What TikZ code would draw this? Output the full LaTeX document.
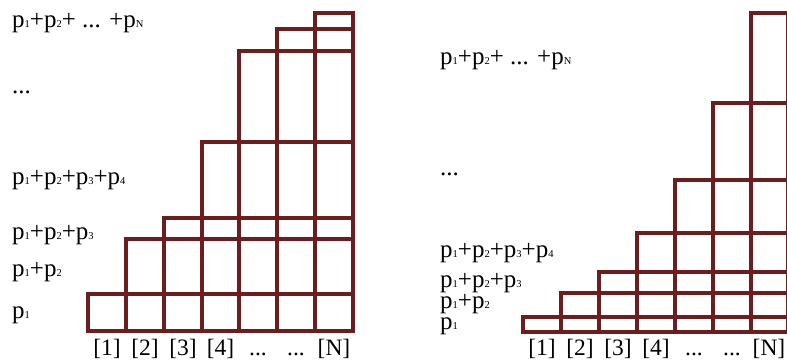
\documentclass[tikz,border=0pt]{standalone}
\usepackage{fontspec}
\setmainfont{Liberation Serif}
\definecolor{gridred}{RGB}{108,30,30}
\newcommand\pp[1]{p{\fontsize{10.5}{10.5}\selectfont #1}}
\begin{document}
\begin{tikzpicture}[x=1pt,y=-1pt,
  gridline/.style={draw=gridred,line width=3.2pt,line join=miter},
  lab/.style={anchor=base west,inner sep=0pt,font=\fontsize{25}{25}\selectfont},
  axlab/.style={anchor=base,inner sep=0pt,font=\fontsize{23.5}{23.5}\selectfont}]
\useasboundingbox (0,0) rectangle (787,361);
% ---------- left chart ----------
\def\xsL{{88,126,164,202,239,277,315,353}}
\def\tsL{{294,239,218,142,51,29,13}}
\foreach \i in {0,...,6}{
  \pgfmathsetmacro\xa{\xsL[\i]}
  \pgfmathsetmacro\xb{\xsL[\i+1]}
  \pgfmathsetmacro\yt{\tsL[\i]}
  \draw[gridline] (\xa,331) rectangle (\xb,\yt);
  \draw[gridline] (\xa,\yt) -- (353,\yt);
  \draw[gridline] (\xa,294) -- (353,294);
}
% ---------- right chart ----------
\def\xsR{{523,561,599,637,675,713,751,788}}
\def\tsR{{317,293,272,233,180,103,13}}
\foreach \i in {0,...,6}{
  \pgfmathsetmacro\xa{\xsR[\i]}
  \pgfmathsetmacro\xb{\xsR[\i+1]}
  \pgfmathsetmacro\yt{\tsR[\i]}
  \draw[gridline] (\xa,332) rectangle (\xb,\yt);
  \draw[gridline] (\xa,\yt) -- (788,\yt);
  \draw[gridline] (\xa,317) -- (788,317);
}
% ---------- left labels ----------
\node[lab] (lN) at (12,28) {\pp{1}+\pp{2}+ ... +\pp{N}};
\node[lab] (ld) at (12,93) {...};
\node[lab] (l4) at (12,184) {\pp{1}+\pp{2}+\pp{3}+\pp{4}};
\node[lab] (l3) at (12,239) {\pp{1}+\pp{2}+\pp{3}};
\node[lab] (l2) at (12,276) {\pp{1}+\pp{2}};
\node[lab] (l1) at (12,318) {\pp{1}};
\node[axlab] (a1) at (107,355) {[1]};
\node[axlab] (a2) at (145,355) {[2]};
\node[axlab] (a3) at (183,355) {[3]};
\node[axlab] (a4) at (220.5,355) {[4]};
\node[axlab] (a5) at (258,355) {...};
\node[axlab] (a6) at (296,355) {...};
\node[axlab] (a7) at (334,355) {[N]};
% ---------- right labels ----------
\node[lab] (rN) at (440,65) {\pp{1}+\pp{2}+ ... +\pp{N}};
\node[lab] (rd) at (440,175) {...};
\node[lab] (r4) at (440,257) {\pp{1}+\pp{2}+\pp{3}+\pp{4}};
\node[lab] (r3) at (440,287) {\pp{1}+\pp{2}+\pp{3}};
\node[lab] (r2) at (440,308) {\pp{1}+\pp{2}};
\node[lab] (r1) at (440,329) {\pp{1}};
\node[axlab] (b1) at (542,355) {[1]};
\node[axlab] (b2) at (580,355) {[2]};
\node[axlab] (b3) at (618,355) {[3]};
\node[axlab] (b4) at (656,355) {[4]};
\node[axlab] (b5) at (694,355) {...};
\node[axlab] (b6) at (732,355) {...};
\node[axlab] (b7) at (769,355) {[N]};
\end{tikzpicture}
\end{document}
